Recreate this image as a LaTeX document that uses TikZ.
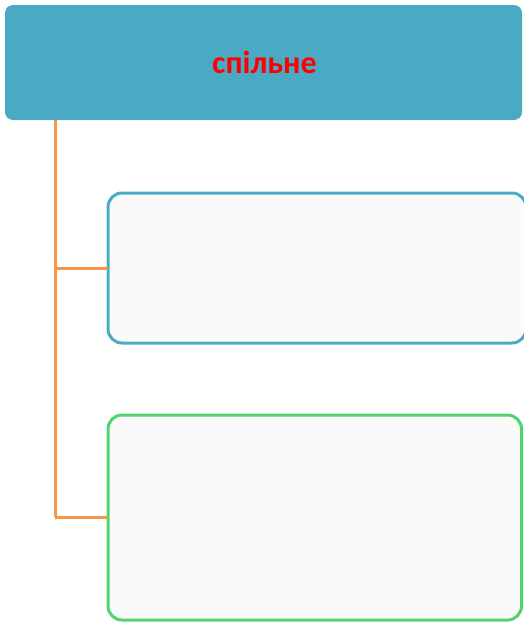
\documentclass[tikz,border=0pt]{standalone}
\usepackage{fontspec}
\setmainfont{Carlito}
\definecolor{headteal}{HTML}{4AAAC4}
\definecolor{linkorange}{HTML}{F79646}
\definecolor{boxblue}{HTML}{4BACC6}
\definecolor{boxgreen}{HTML}{4ED46E}
\definecolor{boxfill}{HTML}{FAFAFA}
\begin{document}
\begin{tikzpicture}[x=1pt,y=-1pt,
  headbox/.style={fill=headteal,rounded corners=8pt,draw=none},
  itembox/.style={fill=boxfill,rounded corners=14pt,line width=3pt},
  link/.style={draw=linkorange,line width=3pt}]
\useasboundingbox (0,0) rectangle (523,624);
\fill[headteal,rounded corners=8pt] (5,5) rectangle (522,120);
\node[text=red,font=\bfseries\fontsize{32}{36}\selectfont] (head) at (264.5,62) {спільне};
\coordinate (top) at (55,120);
\coordinate (j1) at (55,268);
\coordinate (j2) at (55,517);
\draw[itembox,draw=boxblue] (108,193) rectangle (526,343);
\draw[itembox,draw=boxgreen] (108,415) rectangle (521.5,620);
\coordinate (b1) at (108,268);
\coordinate (b2) at (108,517);
\draw[link] (top) -- (j2);
\draw[link] (j1) -- (b1);
\draw[link] (j2) -- (b2);
\end{tikzpicture}
\end{document}
